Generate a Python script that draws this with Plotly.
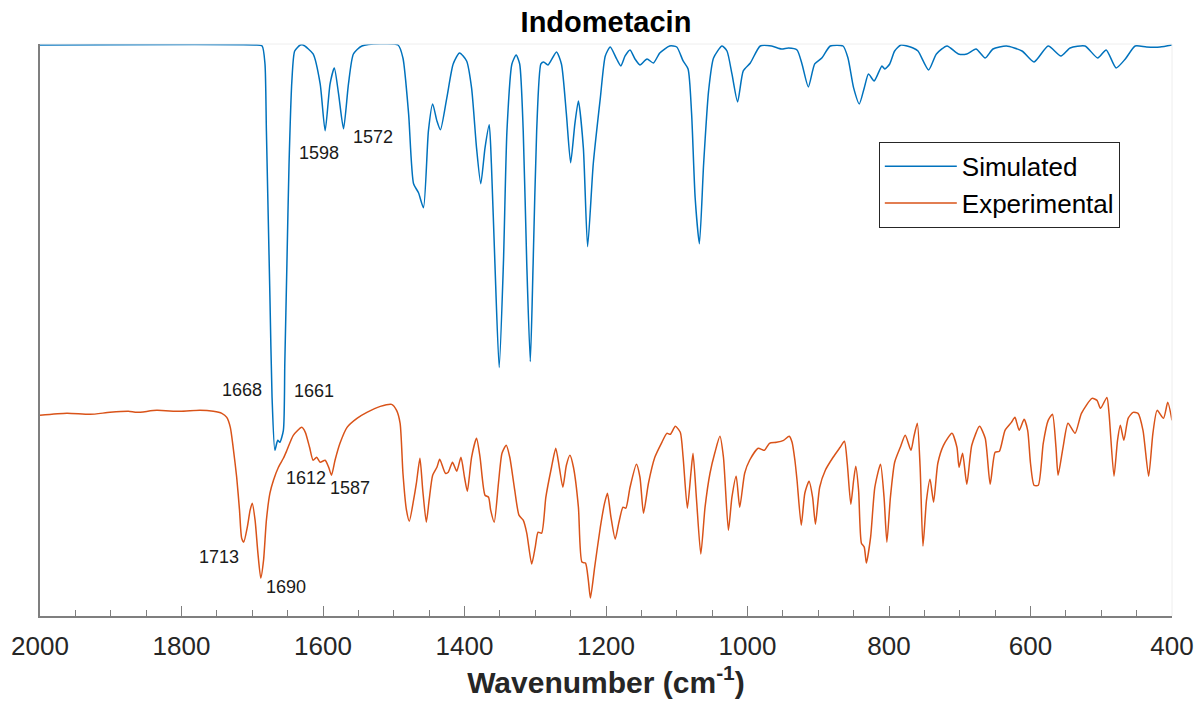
import plotly.graph_objects as go

# Simulated spectrum (wavenumber cm-1, relative transmittance, offset)
sim_wn = [2000, 1696, 1686, 1682, 1680, 1675, 1672, 1668, 1664, 1661, 1656, 1654, 1651, 1648, 1644, 1640,
          1632, 1628, 1614, 1604, 1597, 1590, 1584, 1578, 1571, 1564, 1557, 1545, 1494, 1487, 1479, 1472,
          1465, 1458, 1451, 1445, 1439, 1434, 1425, 1416, 1407, 1397, 1390, 1383, 1377, 1371, 1365, 1362,
          1357, 1351, 1345, 1340, 1333, 1327, 1322, 1317, 1312, 1307, 1303, 1298, 1292, 1288, 1282, 1270,
          1263, 1256, 1250, 1244, 1239, 1232, 1226, 1218, 1208, 1201, 1194, 1185, 1179, 1173, 1166, 1159,
          1152, 1142, 1133, 1124, 1110, 1100, 1091, 1084, 1079, 1074, 1068, 1062, 1055, 1048, 1036, 1029,
          1022, 1014, 1006, 996, 982, 966, 952, 942, 930, 923, 914, 905, 895, 883, 865, 858,
          850, 842, 835, 829, 821, 810, 806, 799, 792, 783, 766, 759, 744, 733, 718, 702,
          690, 677, 664, 653, 634, 612, 595, 575, 557, 544, 523, 505, 493, 479, 466, 452,
          436, 417, 400]
sim_int = [57.2, 57.2, 57.1, 55.3, 48.6, 31.9, 21.9, 16.6, 17.6, 17.4, 18.6, 25.3, 35.3, 45.3, 53.6, 56.6,
           57.2, 57.2, 56.3, 53.3, 48.6, 53.3, 54.9, 52.3, 48.8, 53.3, 56.3, 57.1, 57.2, 55.9, 50.3, 43.3,
           42.4, 40.9, 48.6, 51.3, 49.6, 48.7, 51.9, 55.3, 56.4, 55.6, 52.9, 46.9, 43.3, 46.9, 49.2, 45.3,
           35.3, 24.9, 35.3, 48.6, 55.3, 56.2, 55.3, 48.6, 35.3, 25.5, 35.3, 48.6, 55.3, 55.5, 55.2, 56.5,
           55.3, 50.3, 45.4, 49.3, 51.6, 46.9, 37.0, 45.3, 51.9, 56.1, 57.0, 55.8, 55.1, 56.1, 56.7, 55.8,
           55.2, 55.8, 55.4, 56.4, 57.1, 57.0, 55.6, 54.8, 50.3, 41.9, 37.3, 45.3, 52.6, 55.9, 57.1, 56.6,
           54.3, 51.5, 54.6, 55.4, 57.1, 57.1, 56.8, 56.9, 56.7, 55.3, 53.0, 55.3, 55.9, 57.1, 57.1, 55.9,
           52.9, 51.3, 52.9, 54.3, 53.6, 55.1, 54.8, 55.3, 56.6, 57.2, 56.9, 56.6, 54.7, 56.3, 57.1, 56.3,
           56.3, 56.8, 55.9, 56.8, 57.1, 56.6, 55.5, 57.1, 56.1, 56.9, 57.1, 55.9, 56.7, 54.9, 55.8, 57.1,
           57.0, 57.0, 57.2]

# Experimental spectrum
exp_wn = [2000, 1962, 1929, 1901, 1875, 1863, 1835, 1802, 1774, 1755, 1743, 1736, 1731, 1727, 1722, 1718,
          1715, 1712, 1707, 1703, 1700, 1696, 1692, 1688, 1684, 1680, 1675, 1670, 1663, 1656, 1651, 1642,
          1630, 1625, 1619, 1614, 1609, 1604, 1597, 1592, 1588, 1583, 1576, 1566, 1552, 1538, 1519, 1503,
          1496, 1491, 1487, 1482, 1478, 1472, 1468, 1463, 1459, 1454, 1450, 1445, 1439, 1435, 1427, 1423,
          1417, 1411, 1405, 1400, 1396, 1390, 1383, 1378, 1371, 1366, 1363, 1358, 1352, 1347, 1341, 1336,
          1329, 1323, 1317, 1312, 1305, 1300, 1296, 1291, 1285, 1277, 1271, 1266, 1261, 1256, 1251, 1246,
          1239, 1234, 1229, 1225, 1222, 1216, 1208, 1202, 1198, 1193, 1187, 1182, 1176, 1172, 1166, 1157,
          1152, 1147, 1140, 1131, 1121, 1114, 1109, 1102, 1095, 1091, 1085, 1080, 1077, 1072, 1066, 1060,
          1053, 1046, 1039, 1034, 1027, 1022, 1016, 1011, 1004, 997, 985, 976, 969, 959, 949, 941,
          937, 933, 930, 924, 919, 913, 908, 904, 898, 890, 879, 869, 863, 859, 854, 850,
          847, 843, 839, 835, 832, 826, 820, 812, 807, 803, 798, 792, 784, 777, 769, 765,
          760, 756, 752, 747, 742, 737, 731, 723, 711, 704, 701, 696, 690, 683, 672, 664,
          657, 650, 644, 636, 627, 622, 616, 609, 604, 600, 595, 589, 582, 575, 569, 564,
          561, 554, 547, 537, 528, 513, 506, 501, 492, 489, 482, 477, 473, 468, 462, 455,
          448, 441, 433, 427, 421, 412, 406, 400]
exp_int = [20.1, 20.3, 20.2, 20.4, 20.5, 20.4, 20.6, 20.5, 20.6, 20.5, 20.3, 19.9, 18.9, 16.9, 13.9, 10.6,
           7.8, 7.4, 8.9, 10.6, 11.3, 9.6, 6.3, 3.8, 5.6, 9.6, 12.3, 13.6, 14.9, 15.8, 16.6, 18.1,
           18.9, 18.4, 16.9, 15.6, 15.9, 15.4, 15.6, 14.9, 14.1, 15.6, 17.3, 18.9, 19.8, 20.4, 21.0, 21.2,
           20.6, 19.3, 14.3, 10.6, 9.5, 11.6, 13.3, 15.8, 12.6, 9.4, 11.6, 14.1, 14.9, 15.7, 14.3, 14.4,
           15.4, 14.5, 15.9, 13.9, 12.5, 15.9, 17.8, 15.9, 12.1, 11.9, 10.6, 9.4, 13.3, 16.3, 17.1, 15.9,
           12.6, 10.1, 9.6, 8.3, 5.2, 6.9, 8.4, 8.3, 11.9, 14.9, 16.8, 14.9, 12.9, 15.1, 16.1, 14.9,
           10.9, 5.4, 5.3, 3.6, 1.8, 4.9, 8.9, 11.3, 12.3, 9.9, 7.7, 9.3, 10.9, 10.8, 12.9, 15.2,
           13.9, 10.3, 13.3, 15.9, 17.4, 18.3, 18.2, 19.0, 18.4, 15.9, 10.8, 14.3, 16.3, 11.6, 6.2, 10.9,
           14.3, 16.4, 18.0, 15.9, 8.6, 11.9, 14.0, 10.9, 14.3, 15.6, 16.8, 16.6, 17.3, 17.4, 17.6, 18.0,
           17.4, 15.6, 13.6, 9.1, 12.3, 13.5, 11.9, 9.2, 12.9, 14.6, 15.9, 16.9, 17.5, 15.3, 11.2, 13.6,
           15.0, 12.6, 7.3, 6.9, 5.3, 7.9, 12.9, 15.2, 11.9, 7.4, 11.9, 15.4, 16.9, 18.1, 16.6, 17.9,
           19.3, 14.9, 7.0, 11.6, 13.7, 11.4, 15.3, 17.1, 18.3, 16.9, 14.9, 16.3, 13.2, 17.1, 19.0, 17.8,
           13.2, 16.4, 16.5, 18.6, 19.4, 19.9, 18.6, 19.7, 18.6, 15.3, 13.1, 13.1, 17.3, 19.6, 20.2, 16.9,
           14.1, 16.9, 19.3, 18.3, 20.3, 21.8, 21.6, 20.8, 21.9, 20.3, 14.0, 17.6, 19.1, 17.6, 19.8, 20.4,
           20.3, 18.6, 14.0, 18.3, 20.6, 19.8, 21.4, 19.6]

# Peak labels
label_text = ["1598", "1572", "1668", "1661", "1612", "1587", "1713", "1690"]
label_x = [1606, 1529, 1714, 1613, 1624, 1562, 1747, 1653]
label_y = [46.4, 48.0, 22.6, 22.5, 13.8, 12.8, 5.9, 2.9]

BLUE = "#0072BD"
ORANGE = "#D95319"
FONT = "Arial, Liberation Sans, sans-serif"

fig = go.Figure()
fig.add_trace(go.Scatter(x=sim_wn, y=sim_int, mode="lines", name="Simulated",
                         line=dict(color=BLUE, width=1.5, shape="spline", smoothing=0.6)))
fig.add_trace(go.Scatter(x=exp_wn, y=exp_int, mode="lines", name="Experimental",
                         line=dict(color=ORANGE, width=1.5, shape="spline", smoothing=0.6)))

for t, x, y in zip(label_text, label_x, label_y):
    fig.add_annotation(x=x, y=y, text=t, showarrow=False,
                       font=dict(family=FONT, size=18, color="#1a1a1a"),
                       xanchor="center", yanchor="middle")

# faint top/right box edges
fig.add_shape(type="line", xref="paper", yref="paper", x0=0, x1=1, y0=1, y1=1,
              line=dict(color="#eeeeee", width=1))
fig.add_shape(type="line", xref="paper", yref="paper", x0=1, x1=1, y0=0, y1=1,
              line=dict(color="#eeeeee", width=1))

fig.update_layout(
    width=1196, height=705,
    margin=dict(l=40, r=24, t=44, b=89, autoexpand=False),
    paper_bgcolor="white", plot_bgcolor="white",
    font=dict(family=FONT, color="#262626"),
    title=dict(text="<b>Indometacin</b>", x=0.5, xref="paper", xanchor="center",
               y=1 - 22 / 705, yref="container", yanchor="middle",
               font=dict(family=FONT, size=29, color="black")),
    showlegend=True,
    legend=dict(x=0.741, y=0.829, xanchor="left", yanchor="top",
                bgcolor="white", bordercolor="#262626", borderwidth=1,
                font=dict(family=FONT, size=26, color="black"),
                itemwidth=72, tracegroupgap=0),
    xaxis=dict(range=[2000, 400], dtick=200, tick0=0, showgrid=False, zeroline=False,
               automargin=False,
               showline=True, linecolor="#7f7f7f", linewidth=1.5,
               ticks="inside", ticklen=10, tickcolor="#7f7f7f", tickwidth=1.2,
               minor=dict(dtick=50, ticks="inside", ticklen=6, tickcolor="#7f7f7f", tickwidth=1.2),
               tickfont=dict(family=FONT, size=26, color="#262626"),
               ticklabelstandoff=6,
               title=dict(text="<b>Wavenumber (cm<sup>-1</sup>)</b>", standoff=8,
                          font=dict(family=FONT, size=30, color="#262626"))),
    yaxis=dict(range=[0, 57.3], showgrid=False, zeroline=False, showticklabels=False,
               automargin=False,
               ticks="", showline=True, linecolor="#7f7f7f", linewidth=1.5),
)

fig.write_html("out.html")
